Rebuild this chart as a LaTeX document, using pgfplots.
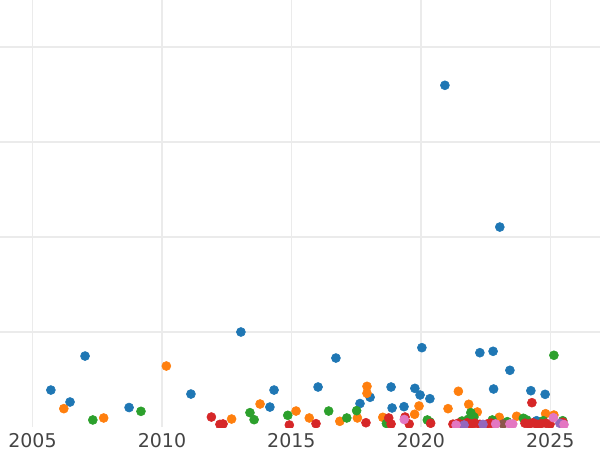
\documentclass[border=0pt]{standalone}
\usepackage{pgfplots}
\pgfplotsset{compat=1.18}
\usepackage{fontspec}
\setmainfont{DejaVu Sans}
\definecolor{tabblue}{HTML}{1F77B4}
\definecolor{taborange}{HTML}{FF7F0E}
\definecolor{tabgreen}{HTML}{2CA02C}
\definecolor{tabred}{HTML}{D62728}
\definecolor{tabpurple}{HTML}{9467BD}
\definecolor{tabbrown}{HTML}{8C564B}
\definecolor{tabpink}{HTML}{E377C2}
\definecolor{gridgray}{HTML}{EBEBEB}
\definecolor{ticktext}{HTML}{444444}
\begin{document}
\begin{tikzpicture}
\useasboundingbox (0,0) rectangle (15cm,11.25cm);
\begin{axis}[
  at={(0,0.575cm)}, anchor=south west,
  scale only axis, width=15cm, height=10.675cm,
  xmin=2003.745, xmax=2026.92, ymin=0, ymax=4.495,
  xtick={2005,2010,2015,2020,2025},
  xticklabels={2005,2010,2015,2020,2025},
  ytick={1,2,3,4}, yticklabels={},
  extra x ticks={2010,2020}, extra x tick labels={},
  extra x tick style={grid style={gridgray, line width=1.2pt}},
  grid=major, grid style={gridgray, line width=0.75pt},
  axis line style={draw=none},
  major tick length=0pt,
  tick style={draw=none},
  xticklabel style={font=\fontsize{13.5}{16}\selectfont, text=ticktext, yshift=-1pt},
  /pgf/number format/assume math mode=true,
  clip=true, clip marker paths=true,
  every axis plot/.append style={only marks, mark=*, mark size=3.2pt},
]
% blue
\addplot[tabblue, mark options={draw=tabblue, fill=tabblue}] coordinates {
(2005.71,0.389) (2006.45,0.263) (2007.03,0.747) (2008.73,0.205) (2011.12,0.347)
(2013.05,1.000) (2014.17,0.210) (2014.33,0.389) (2016.03,0.421) (2016.72,0.726)
(2017.65,0.247) (2018.04,0.313) (2018.85,0.421) (2018.89,0.200) (2019.35,0.214)
(2019.77,0.407) (2019.97,0.337) (2020.04,0.835) (2020.35,0.298) (2020.93,3.597)
(2022.28,0.782) (2022.79,0.797) (2022.81,0.400) (2023.05,2.105) (2023.44,0.597)
(2024.25,0.382) (2024.80,0.344) (2024.47,0.066)
};
% orange
\addplot[taborange, mark options={draw=taborange, fill=taborange}] coordinates {
(2006.21,0.193) (2007.75,0.095) (2010.17,0.642) (2012.69,0.084) (2013.79,0.242)
(2015.18,0.168) (2015.69,0.095) (2016.87,0.060) (2017.55,0.095) (2017.92,0.428)
(2017.92,0.355) (2018.53,0.102) (2019.76,0.134) (2019.93,0.221) (2021.05,0.193)
(2021.45,0.376) (2021.85,0.239) (2022.18,0.158) (2023.03,0.102) (2023.70,0.113)
(2024.82,0.140) (2025.14,0.126)
};
% green
\addplot[tabgreen, mark options={draw=tabgreen, fill=tabgreen}] coordinates {
(2007.33,0.074) (2009.19,0.165) (2013.40,0.151) (2013.56,0.077) (2014.86,0.123)
(2016.44,0.168) (2017.14,0.095) (2017.52,0.172) (2018.67,0.037) (2020.25,0.074)
(2020.35,0.053) (2021.93,0.151) (2021.83,0.081) (2022.05,0.105) (2021.59,0.063)
(2022.76,0.074) (2023.34,0.056) (2023.96,0.092) (2024.09,0.074) (2024.73,0.066)
(2025.14,0.755) (2025.48,0.066)
};
% red
\addplot[tabred, mark options={draw=tabred, fill=tabred}] coordinates {
(2011.91,0.105) (2012.24,0.028) (2012.36,0.032) (2014.92,0.021) (2015.95,0.035)
(2017.88,0.045) (2018.76,0.095) (2018.85,0.032) (2019.39,0.105) (2019.55,0.032)
(2020.38,0.039) (2024.29,0.256)
(2021.24,0.030) (2021.44,0.040) (2021.63,0.025) (2021.79,0.045) (2021.94,0.030)
(2022.09,0.040) (2022.28,0.028) (2022.59,0.035) (2022.71,0.042) (2022.86,0.030)
(2024.02,0.040) (2024.18,0.030) (2024.33,0.045) (2024.49,0.028) (2024.64,0.035)
(2024.83,0.040) (2024.99,0.030) (2025.49,0.050)
};
% purple
\addplot[tabpurple, mark options={draw=tabpurple, fill=tabpurple}] coordinates {
(2021.67,0.021) (2022.40,0.028) (2025.37,0.039)
};
% brown
\addplot[tabbrown, mark options={draw=tabbrown, fill=tabbrown}] coordinates {
(2023.18,0.032)
};
% pink
\addplot[tabpink, mark options={draw=tabpink, fill=tabpink}] coordinates {
(2019.36,0.079) (2021.36,0.021) (2022.89,0.032) (2023.44,0.032) (2023.55,0.032)
(2025.12,0.098) (2025.53,0.026)
};
\end{axis}
\end{tikzpicture}
\end{document}
